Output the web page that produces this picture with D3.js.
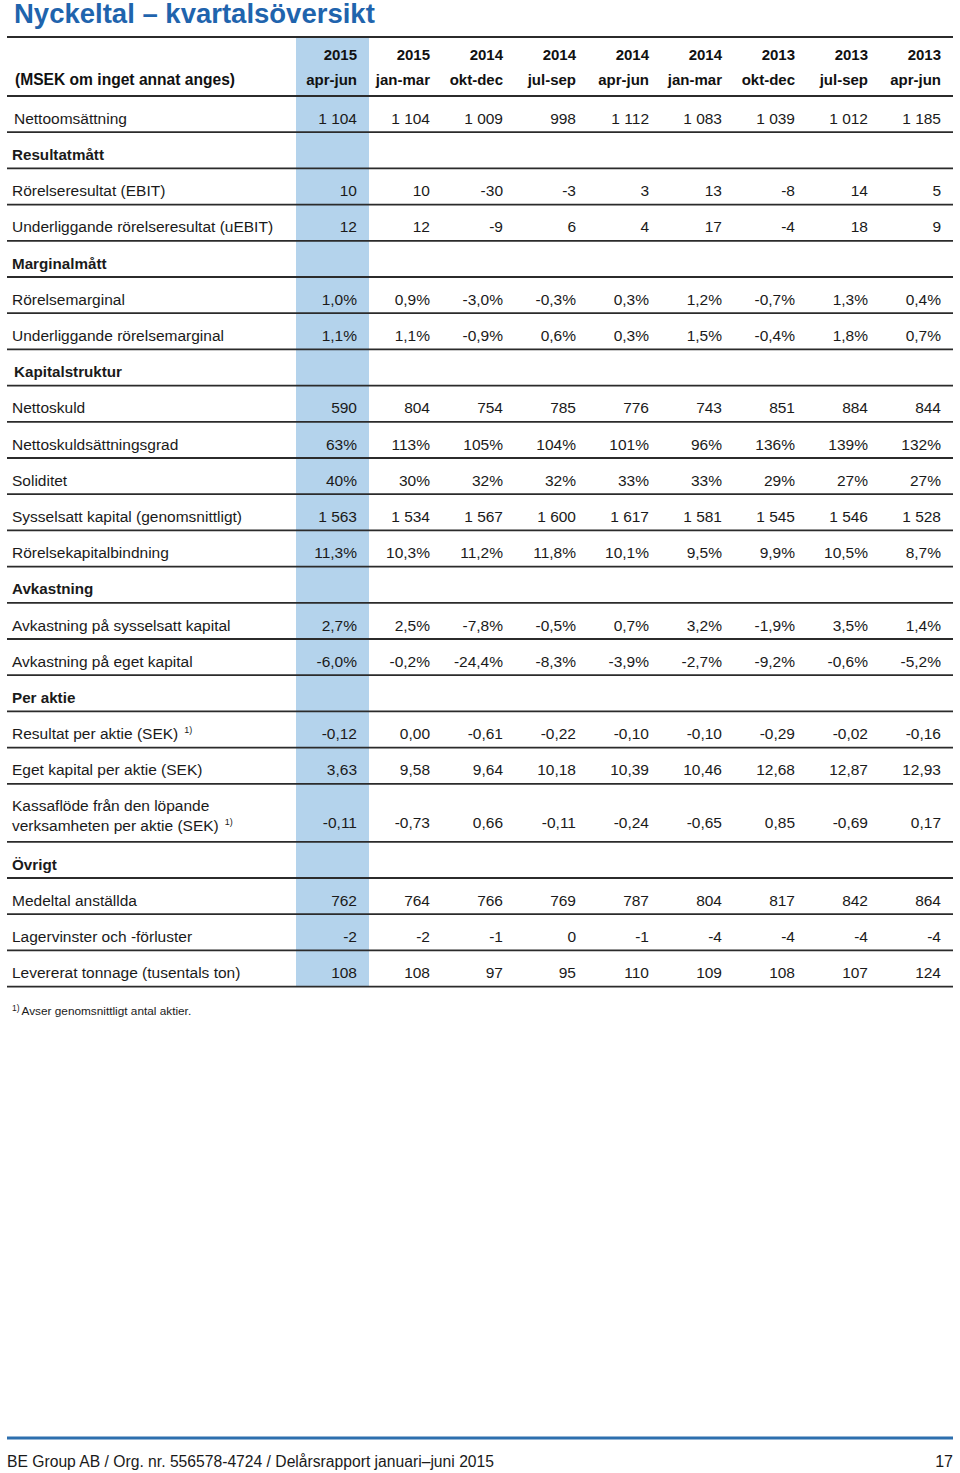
<!DOCTYPE html>
<html>
<head>
<meta charset="utf-8">
<script src="https://cdnjs.cloudflare.com/ajax/libs/d3/7.8.5/d3.min.js"></script>
<style>
  body { margin: 0; background: #fff; }
  svg { display: block; font-family: "Liberation Sans", Arial, sans-serif; }
</style>
</head>
<body>
<div id="chart"></div>
<script>
// Column headings (newest quarter first)
const years = ["2015", "2015", "2014", "2014", "2014", "2014", "2013", "2013", "2013"];
const quarters = ["apr-jun", "jan-mar", "okt-dec", "jul-sep", "apr-jun", "jan-mar", "okt-dec", "jul-sep", "apr-jun"];

// Table rows: section headings have no values; fmt picks the number format
const rowLabels = [
  "Nettoomsättning", "Resultatmått", "Rörelseresultat (EBIT)", "Underliggande rörelseresultat (uEBIT)",
  "Marginalmått", "Rörelsemarginal", "Underliggande rörelsemarginal",
  "Kapitalstruktur", "Nettoskuld", "Nettoskuldsättningsgrad", "Soliditet",
  "Sysselsatt kapital (genomsnittligt)", "Rörelsekapitalbindning",
  "Avkastning", "Avkastning på sysselsatt kapital", "Avkastning på eget kapital",
  "Per aktie", "Resultat per aktie (SEK)", "Eget kapital per aktie (SEK)",
  "Kassaflöde från den löpande|verksamheten per aktie (SEK)",
  "Övrigt", "Medeltal anställda", "Lagervinster och -förluster", "Levererat tonnage (tusentals ton)"
];
const rowFormats = [
  "int", "section", "int", "int",
  "section", "pct1", "pct1",
  "section", "int", "pct0", "pct0", "int", "pct1",
  "section", "pct1", "pct1",
  "section", "dec2", "dec2", "dec2",
  "section", "int", "int", "int"
];
const rowNotes = [17, 19]; // rows with footnote 1)

const nettoomsattning = [1104, 1104, 1009, 998, 1112, 1083, 1039, 1012, 1185];
const ebit = [10, 10, -30, -3, 3, 13, -8, 14, 5];
const uebit = [12, 12, -9, 6, 4, 17, -4, 18, 9];
const rorelsemarginal = [1.0, 0.9, -3.0, -0.3, 0.3, 1.2, -0.7, 1.3, 0.4];
const uRorelsemarginal = [1.1, 1.1, -0.9, 0.6, 0.3, 1.5, -0.4, 1.8, 0.7];
const nettoskuld = [590, 804, 754, 785, 776, 743, 851, 884, 844];
const nettoskuldsattningsgrad = [63, 113, 105, 104, 101, 96, 136, 139, 132];
const soliditet = [40, 30, 32, 32, 33, 33, 29, 27, 27];
const sysselsattKapital = [1563, 1534, 1567, 1600, 1617, 1581, 1545, 1546, 1528];
const rorelsekapitalbindning = [11.3, 10.3, 11.2, 11.8, 10.1, 9.5, 9.9, 10.5, 8.7];
const avkSysselsatt = [2.7, 2.5, -7.8, -0.5, 0.7, 3.2, -1.9, 3.5, 1.4];
const avkEget = [-6.0, -0.2, -24.4, -8.3, -3.9, -2.7, -9.2, -0.6, -5.2];
const resultatPerAktie = [-0.12, 0.00, -0.61, -0.22, -0.10, -0.10, -0.29, -0.02, -0.16];
const egetKapitalPerAktie = [3.63, 9.58, 9.64, 10.18, 10.39, 10.46, 12.68, 12.87, 12.93];
const kassaflodePerAktie = [-0.11, -0.73, 0.66, -0.11, -0.24, -0.65, 0.85, -0.69, 0.17];
const medeltalAnstallda = [762, 764, 766, 769, 787, 804, 817, 842, 864];
const lagervinster = [-2, -2, -1, 0, -1, -4, -4, -4, -4];
const levereratTonnage = [108, 108, 97, 95, 110, 109, 108, 107, 124];

const rowValues = [
  nettoomsattning, null, ebit, uebit,
  null, rorelsemarginal, uRorelsemarginal,
  null, nettoskuld, nettoskuldsattningsgrad, soliditet, sysselsattKapital, rorelsekapitalbindning,
  null, avkSysselsatt, avkEget,
  null, resultatPerAktie, egetKapitalPerAktie, kassaflodePerAktie,
  null, medeltalAnstallda, lagervinster, levereratTonnage
];

const W = 960, H = 1473;
const blue = "#1f64ad";
const lineCol = "#2b2b2b";

// Swedish number style: space thousands, comma decimals, plain hyphen minus
const sv = d3.formatLocale({ decimal: ",", thousands: " ", grouping: [3], currency: ["", " kr"], minus: "-" });
const formats = {
  int: sv.format(",d"),
  dec2: sv.format(".2f"),
  pct1: v => sv.format(".1f")(v) + "%",
  pct0: v => sv.format(".0f")(v) + "%"
};

const svg = d3.select("#chart").append("svg")
  .attr("width", W)
  .attr("height", H);

// Title
svg.append("text")
  .attr("x", 14).attr("y", 22.5)
  .attr("fill", blue)
  .attr("font-size", 27.5)
  .attr("font-weight", "bold")
  .text("Nyckeltal – kvartalsöversikt");

// Layout scales
const left = 7, right = 953;
const tableTop = 37, headBottom = 96;
const x = d3.scaleBand().domain(d3.range(years.length)).range([296, right]);

const rowH = 36.2, tallH = 58;
const heights = rowLabels.map(l => l.includes("|") ? tallH : rowH);
const bottoms = Array.from(d3.cumsum(heights), v => headBottom + v);
const tops = bottoms.map((b, i) => b - heights[i]);
const tableBottom = bottoms[bottoms.length - 1];

// Highlight for the latest quarter
svg.append("rect")
  .attr("x", x(0)).attr("y", tableTop)
  .attr("width", x.bandwidth())
  .attr("height", tableBottom - tableTop)
  .attr("fill", "#b4d3ec");

// Header
const head = svg.append("g").attr("font-weight", "bold").attr("font-size", 15).attr("fill", "#111");
head.append("text").attr("x", 15).attr("y", 85).attr("font-size", 15.6).text("(MSEK om inget annat anges)");
head.selectAll(".yr").data(years).join("text")
  .attr("class", "yr")
  .attr("x", (d, i) => x(i) + x.bandwidth() - 12)
  .attr("y", 60)
  .attr("text-anchor", "end")
  .text(d => d);
head.selectAll(".q").data(quarters).join("text")
  .attr("class", "q")
  .attr("x", (d, i) => x(i) + x.bandwidth() - 12)
  .attr("y", 85)
  .attr("text-anchor", "end")
  .text(d => d);

// Rules
const rules = [tableTop, headBottom].concat(bottoms);
svg.selectAll(".rule").data(rules).join("line")
  .attr("class", "rule")
  .attr("x1", left).attr("x2", right)
  .attr("y1", d => d).attr("y2", d => d)
  .attr("stroke", lineCol)
  .attr("stroke-width", (d, i) => i === 0 ? 2.2 : 1.8);

// Rows
const rows = svg.selectAll(".row").data(rowLabels).join("g")
  .attr("class", "row")
  .attr("font-size", 15.5)
  .attr("fill", "#1a1a1a");

rows.each(function (label, i) {
  const g = d3.select(this);
  const isSection = rowFormats[i] === "section";
  const lines = label.split("|");
  const base = lines.length > 1 ? bottoms[i] - 14 : bottoms[i] - 8.5;

  const t = g.append("text")
    .attr("x", (i === 0 || label === "Kapitalstruktur") ? 14 : 12)
    .attr("font-weight", isSection ? "bold" : null)
    .attr("font-size", isSection ? 15.2 : 15.5);
  if (lines.length > 1) {
    t.append("tspan").attr("x", 12).attr("y", tops[i] + 27).text(lines[0]);
    t.append("tspan").attr("x", 12).attr("y", tops[i] + 47).text(lines[1]);
  } else {
    t.attr("y", base).text(label);
  }
  if (rowNotes.includes(i)) {
    t.append("tspan").attr("dx", 6).attr("dy", -6).attr("font-size", 9).text("1)");
  }

  if (rowValues[i]) {
    const f = formats[rowFormats[i]];
    g.selectAll(".v").data(rowValues[i]).join("text")
      .attr("class", "v")
      .attr("x", (d, j) => x(j) + x.bandwidth() - 12)
      .attr("y", base)
      .attr("text-anchor", "end")
      .text(d => f(d));
  }
});

// Footnote
const fn = svg.append("text").attr("x", 12).attr("y", 1015).attr("font-size", 11.8).attr("fill", "#1a1a1a");
fn.append("tspan").attr("font-size", 8.5).attr("dy", -4).text("1)");
fn.append("tspan").attr("dy", 4).attr("dx", 2).text("Avser genomsnittligt antal aktier.");

// Footer
svg.append("line")
  .attr("x1", left).attr("x2", right)
  .attr("y1", 1438).attr("y2", 1438)
  .attr("stroke", "#2d6fae")
  .attr("stroke-width", 3);
svg.append("text")
  .attr("x", 7).attr("y", 1467)
  .attr("font-family", "'Liberation Sans Narrow', 'Liberation Sans', Arial, sans-serif")
  .attr("font-size", 16)
  .attr("fill", "#1a1a1a")
  .attr("textLength", 487)
  .attr("lengthAdjust", "spacingAndGlyphs")
  .text("BE Group AB / Org. nr. 556578-4724 / Delårsrapport januari–juni 2015");
svg.append("text")
  .attr("x", 953).attr("y", 1467)
  .attr("text-anchor", "end")
  .attr("font-family", "'Liberation Sans Narrow', 'Liberation Sans', Arial, sans-serif")
  .attr("font-size", 16)
  .attr("fill", "#1a1a1a")
  .text("17");
</script>
</body>
</html>
